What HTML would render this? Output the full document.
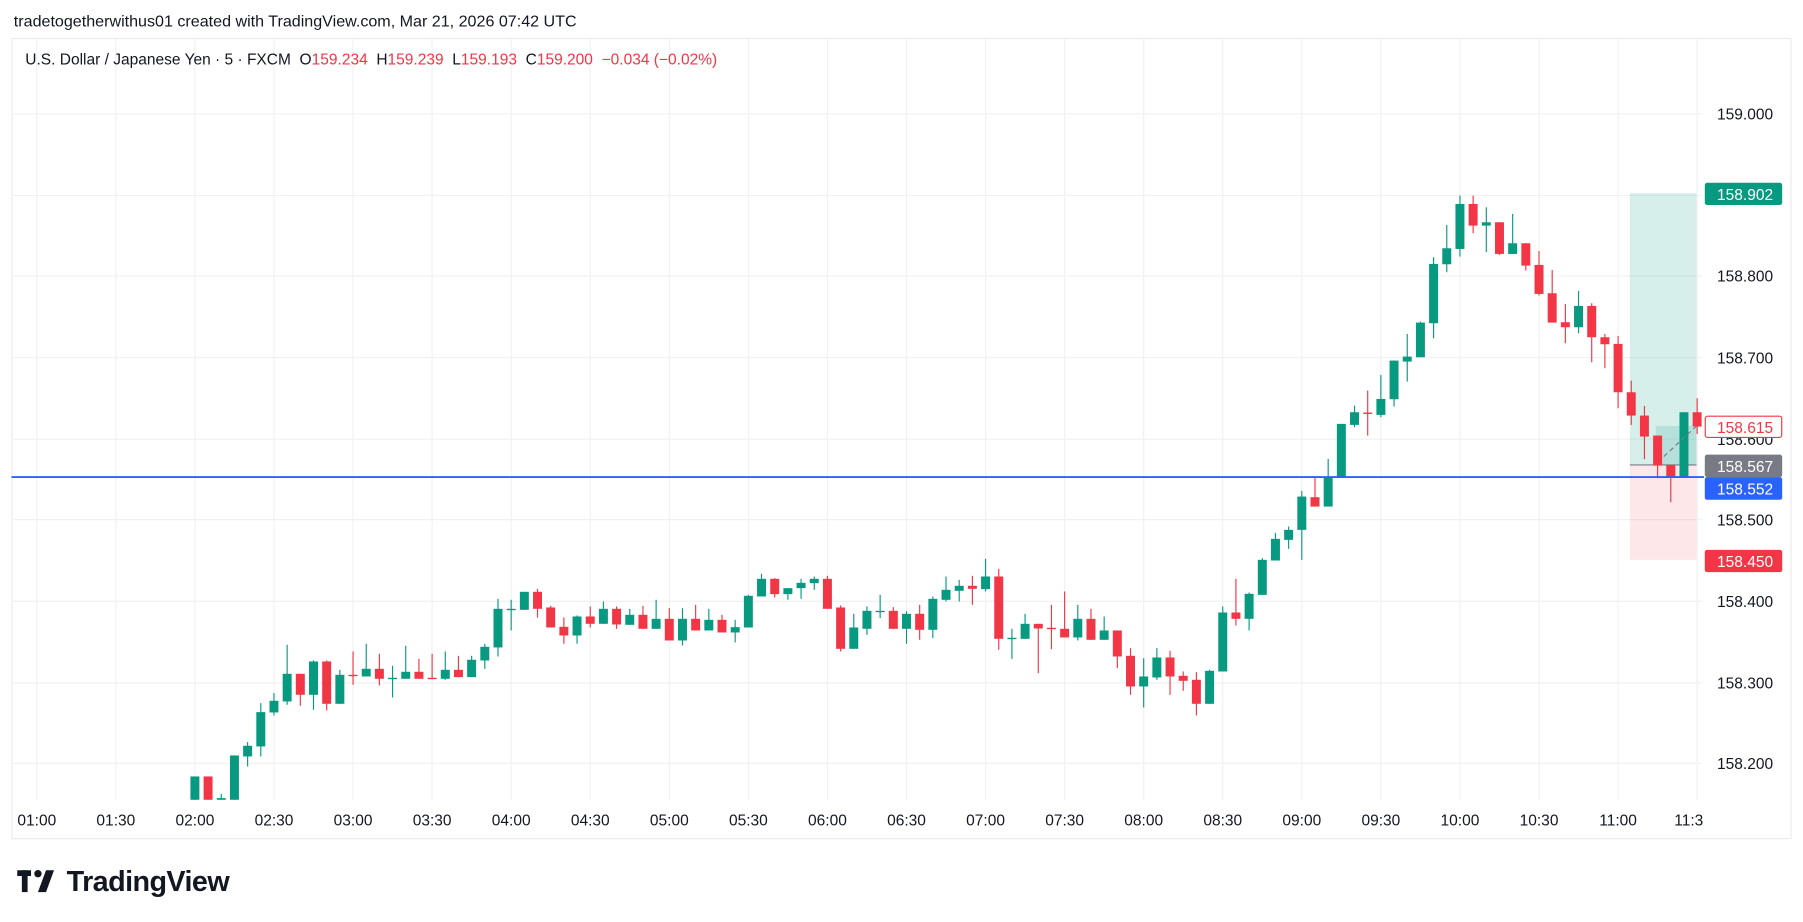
<!DOCTYPE html>
<html><head><meta charset="utf-8"><style>
html,body{margin:0;padding:0;background:#fff;width:1803px;height:922px;overflow:hidden}
svg{display:block}
text{font-family:"Liberation Sans",sans-serif}
</style></head><body>
<svg id="c" width="1803" height="922" viewBox="0 0 1568 802" preserveAspectRatio="none" xmlns="http://www.w3.org/2000/svg">
<rect x="0" y="0" width="1568" height="802" fill="#fff"/>
<text x="12" y="23" font-size="14" fill="#131722">tradetogetherwithus01 created with TradingView.com, Mar 21, 2026 07:42 UTC</text>
<rect x="10.5" y="33.5" width="1547" height="696" fill="none" stroke="#e9eaec"/>
<g id="grid"></g>
<text x="22" y="56" font-size="13.5" fill="#131722" style="white-space:pre">U.S. Dollar / Japanese Yen · 5 · FXCM  O<tspan fill="#f23645">159.234</tspan>  H<tspan fill="#f23645">159.239</tspan>  L<tspan fill="#f23645">159.193</tspan>  C<tspan fill="#f23645">159.200</tspan>  <tspan fill="#f23645">−0.034 (−0.02%)</tspan></text>
<rect x="1417.4" y="168.1" width="58" height="236.3" fill="#089981" fill-opacity="0.16"/>
<rect x="1417.4" y="404.4" width="58" height="82.6" fill="#f23645" fill-opacity="0.12"/>
<rect x="1440" y="370.5" width="35.4" height="33.9" fill="#089981" fill-opacity="0.16"/>
<line x1="1417.4" y1="404.4" x2="1475.4" y2="404.4" stroke="#787b86" stroke-width="1"/>
<defs><clipPath id="pc"><rect x="10" y="34" width="1470" height="662"/></clipPath></defs>
<g id="candles" clip-path="url(#pc)"></g>
<line x1="1447" y1="397" x2="1475" y2="371" stroke="#787b86" stroke-width="1" stroke-dasharray="4,3"/>
<line x1="10" y1="415" x2="1482" y2="415" stroke="#2962ff" stroke-width="1.6"/>
<g id="plabels"></g>
<rect x="1482.6" y="159" width="67.3" height="19.3" rx="2" fill="#089981"/>
<text x="1542" y="174" font-size="13.5" fill="#fff" text-anchor="end">158.902</text>
<rect x="1483" y="362" width="66.5" height="18.5" rx="2" fill="#fff" stroke="#f23645" stroke-width="1"/>
<text x="1542" y="376.5" font-size="13.5" fill="#f23645" text-anchor="end">158.615</text>
<rect x="1482.6" y="395.5" width="67.3" height="19.5" rx="2" fill="#787b86"/>
<text x="1542" y="410.5" font-size="13.5" fill="#fff" text-anchor="end">158.567</text>
<rect x="1482.6" y="415" width="67.3" height="19.7" rx="2" fill="#2962ff"/>
<text x="1542" y="430" font-size="13.5" fill="#fff" text-anchor="end">158.552</text>
<rect x="1482.6" y="478.3" width="67.3" height="19.4" rx="2" fill="#f23645"/>
<text x="1542" y="493.3" font-size="13.5" fill="#fff" text-anchor="end">158.450</text>
<g id="tlabels"></g>
<g fill="#131722">
<rect x="15" y="757" width="12" height="5"/>
<rect x="19" y="757" width="5" height="19"/>
<circle cx="33" cy="760" r="3.2"/>
<polygon points="40,757 47,757 40,776 33,776"/>
</g>
<text x="58" y="775" font-size="25" font-weight="bold" fill="#131722" letter-spacing="-0.5">TradingView</text>
</svg>
<script>
var NS="http://www.w3.org/2000/svg";
function el(p,t,a,txt){var e=document.createElementNS(NS,t);for(var k in a)e.setAttribute(k,a[k]);if(txt!==undefined)e.textContent=txt;p.appendChild(e);return e;}
var grid=document.getElementById('grid');
var prices=[["159.000",99],["158.900",170],["158.800",240],["158.700",311],["158.600",382],["158.500",452],["158.400",523],["158.300",594],["158.200",664]];
prices.forEach(function(p){el(grid,'line',{x1:10,y1:p[1],x2:1480,y2:p[1],stroke:'#f0f1f3','stroke-width':1});});
var times=["01:00","01:30","02:00","02:30","03:00","03:30","04:00","04:30","05:00","05:30","06:00","06:30","07:00","07:30","08:00","08:30","09:00","09:30","10:00","10:30","11:00","11:30"];
var tl=document.getElementById('tlabels');
times.forEach(function(t,i){var x=32+i*68.76;el(grid,'line',{x1:x,y1:34,x2:x,y2:696,stroke:'#f0f1f3','stroke-width':1});
 if(i<21)el(tl,'text',{x:x,y:718,'font-size':13.5,fill:'#131722','text-anchor':'middle'},t);});
el(tl,'text',{x:1456,y:718,'font-size':13.5,fill:'#131722'},"11:3");
var pl=document.getElementById('plabels');
prices.forEach(function(p){if(p[0]!=="158.600"&&p[0]!=="158.900")el(pl,'text',{x:1542,y:p[1]+5,'font-size':13.5,fill:'#131722','text-anchor':'end'},p[0]);});
el(pl,'text',{x:1542,y:387,'font-size':13.5,fill:'#131722','text-anchor':'end'},"158.600");
var segs=[
[0,495.65,[["g",620,690,620,690],["r",620,690,620,690],["g",685,690,672,690],["g",557,690,557,690],["g",528,560,517,590],["g",427,530,400,560],["g",393,428,370,437],["g",312,395,225,405],["r",312,375,312,408],["g",275,375,272,420],["r",275,402,272,422],["g",315,402,300,402],["r",315,317,245,345],["g",297,320,222,320],["r",297,327,252,347],["g",324,326,288,383],["g",306,327,228,327],["r",306,327,267,327],["r",324,326,252,326],["g",300,327,245,330],["r",300,322,258,322],["g",270,322,258,322],["g",231,272,222,297],["g",117,233,87,260],["g",117,119,90,182],["g",66,120,66,120],["r",66,117,57,143],["r",113,173,108,173],["r",171,197,143,222]]],
[29,478.26,[["g",200,257,197,282],["r",200,222,170,233],["g",177,222,155,222],["r",177,224,170,237],["g",195,225,177,225],["r",195,237,168,237],["g",207,237,150,237],["r",207,272,175,272],["g",207,272,175,287],["r",207,242,165,242],["g",210,242,177,242],["r",210,248,195,248],["g",232,248,210,278],["g",138,233,135,233],["g",87,140,72,140],["r",87,133,85,143],["g",115,133,115,150],["g",99,115,87,147],["g",87,100,80,120],["r",87,177,78,177],["r",173,297,167,305],["g",233,297,192,297],["g",183,237,170,255],["g",183,185,135,205],["r",183,237,172,237],["g",192,237,184,282],["r",192,240,165,270],["g",147,240,140,265],["g",120,150,80,155],["g",108,123,90,155],["r",108,117,78,165],["g",80,118,27,125],["r",80,267,57,300],["g",264,266,237,327]]],
[63,469.57,[["g",252,297,222,297],["r",252,266,252,400],["r",264,266,195,328],["r",267,293,155,293],["g",237,293,195,302],["r",237,300,207,300],["g",272,300,230,300],["r",272,350,272,385],["r",348,440,325,465],["g",410,440,355,503],["g",353,413,325,420],["r",353,410,333,465],["r",408,423,395,453],["r",420,492,397,527],["g",393,492,390,492],["g",218,395,200,395],["r",218,237,117,257],["g",162,237,158,272]]],
[81,313.04,[["g",600,705,595,705],["g",537,602,519,602],["g",510,540,500,567]]],
[84,130.43,[["g",1040,1140,1023,1230],["r",1042,1070,980,1070],["g",980,1070,927,1070],["g",822,980,822,980],["g",787,825,767,832],["r",788,792,722,857],["g",747,795,675,802],["g",632,748,632,770],["g",620,635,552,695],["g",518,622,515,622],["g",342,520,322,565],["g",295,343,225,367],["g",162,297,137,320],["r",162,227,137,250],["g",217,227,172,307],["r",217,312,217,315],["g",280,312,192,312],["r",280,347,280,362],["r",345,432,303,437],["r",430,518,360,518],["r",517,532,462,580],["g",468,532,423,550],["r",468,562,460,637],["r",562,583,552,655],["r",582,727,558,775],["r",727,797,692,825],["r",797,860,768,928],["r",857,947,857,985],["r",945,982,945,1057],["g",787,982,787,982],["r",787,830,745,852]]]
];
var cg=document.getElementById('candles');
segs.forEach(function(s){s[2].forEach(function(c,j){var i=s[0]+j;var x=169.5+i*11.46;var f=function(v){return s[1]+v*0.2899;};
 var col=c[0]=="g"?"#089981":"#f23645";var t=f(c[1]),b=f(c[2]);if(b-t<1.2)b=t+1.2;
 el(cg,'line',{x1:x,y1:f(c[3]),x2:x,y2:f(c[4]),stroke:col,'stroke-width':1});
 el(cg,'rect',{x:x-3.9,y:t,width:7.8,height:b-t,fill:col});});});
</script>
</body></html>
